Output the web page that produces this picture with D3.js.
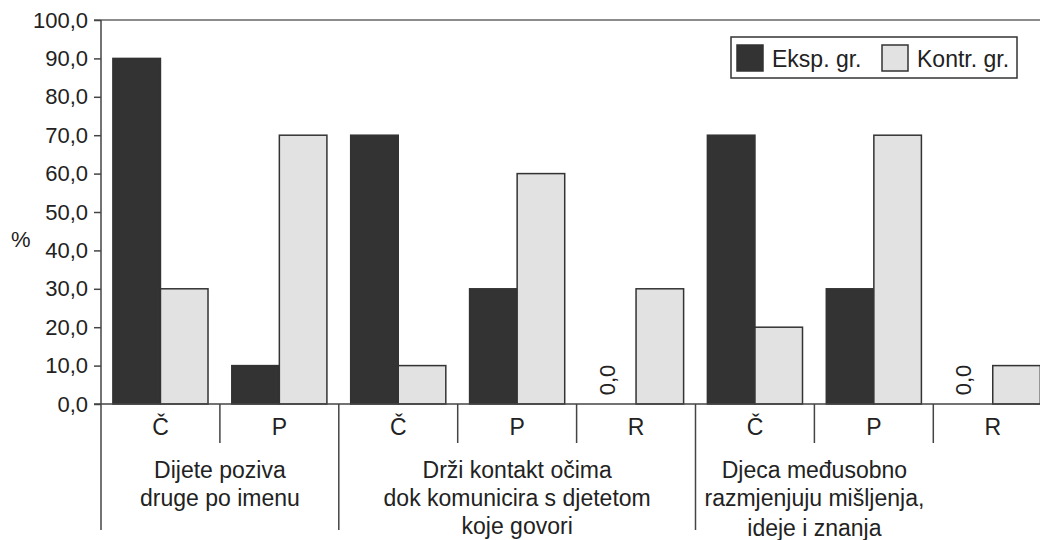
<!DOCTYPE html>
<html>
<head>
<meta charset="utf-8">
<script src="https://cdn.jsdelivr.net/npm/d3@7"></script>
<style>
  body { margin: 0; background: #fff; }
  svg { display: block; font-family: "Liberation Sans", Arial, sans-serif; }
</style>
</head>
<body>
<svg id="chart" width="1040" height="540"></svg>
<script>
// sub-categories along the x axis, in order
var categories = ["Č", "P", "Č", "P", "R", "Č", "P", "R"];
var eksp = [90, 10, 70, 30, 0, 70, 30, 0];
var kontr = [30, 70, 10, 60, 30, 20, 70, 10];
var seriesNames = ["Eksp. gr.", "Kontr. gr."];
var yTicks = [0, 10, 20, 30, 40, 50, 60, 70, 80, 90, 100];
// group labels (lines) and how many sub-categories each covers
var groupLabels = [
  ["Dijete poziva", "druge po imenu"],
  ["Drži kontakt očima", "dok komunicira s djetetom", "koje govori"],
  ["Djeca međusobno", "razmjenjuju mišljenja,", "ideje i znanja"]
];
var groupSizes = [2, 3, 3];

var svg = d3.select("#chart");
var padLeft = 101, padTop = 20, baseY = 404;
var step = 118.9;
var plotRight = padLeft + step * categories.length; // runs past the picture edge

var x0 = d3.scaleBand()
  .domain(d3.range(categories.length))
  .range([padLeft, plotRight])
  .paddingInner(0.2)
  .paddingOuter(0.1);

var x1 = d3.scaleBand()
  .domain([0, 1])
  .range([0, x0.bandwidth()]);

var y = d3.scaleLinear().domain([0, 100]).range([baseY, padTop]);

var fmt = function(v) { return d3.format(".1f")(v).replace(".", ","); };
var dark = "#333333", light = "#e2e2e2", ink = "#222";
var fs = 23;

// top border line
svg.append("line")
  .attr("x1", padLeft - 7).attr("x2", 1040)
  .attr("y1", y(100)).attr("y2", y(100))
  .attr("stroke", "#666").attr("stroke-width", 1.5);

// y axis
var yAxis = svg.append("g")
  .attr("transform", "translate(" + padLeft + ",0)")
  .call(d3.axisLeft(y).tickValues(yTicks).tickFormat(fmt).tickSize(7).tickPadding(6));
yAxis.select(".domain").remove();
yAxis.selectAll(".tick line").attr("stroke", "#444").attr("stroke-width", 1.5);
yAxis.selectAll(".tick text").attr("fill", ink).attr("font-size", 22)
  .attr("font-family", "Liberation Sans, Arial, sans-serif");

svg.append("text")
  .attr("x", 11).attr("y", 247)
  .attr("font-size", 22).attr("fill", ink)
  .text("%");

// bars
var rows = categories.map(function(c, i) {
  return [{ v: eksp[i], s: 0 }, { v: kontr[i], s: 1 }];
});
var grp = svg.selectAll("g.cat")
  .data(rows)
  .enter().append("g")
  .attr("class", "cat")
  .attr("transform", function(d, i) { return "translate(" + x0(i) + ",0)"; });

grp.selectAll("rect")
  .data(function(d) { return d.filter(function(e) { return e.v > 0; }); })
  .enter().append("rect")
  .attr("x", function(d) { return x1(d.s); })
  .attr("y", function(d) { return y(d.v); })
  .attr("width", x1.bandwidth())
  .attr("height", function(d) { return y(0) - y(d.v); })
  .attr("fill", function(d) { return d.s === 0 ? dark : light; })
  .attr("stroke", "#333")
  .attr("stroke-width", 1.5);

// zero labels, rotated
grp.selectAll("text.zero")
  .data(function(d) { return d.filter(function(e) { return e.v === 0; }); })
  .enter().append("text")
  .attr("class", "zero")
  .attr("transform", function(d) {
    var cx = x1(d.s) + x1.bandwidth() / 2 - 5;
    return "translate(" + cx + "," + (y(0) - 24) + ") rotate(-90)";
  })
  .attr("text-anchor", "middle")
  .attr("dominant-baseline", "central")
  .attr("font-size", 22).attr("fill", ink)
  .text(function(d) { return fmt(d.v); });

// x baseline
svg.append("line")
  .attr("x1", padLeft - 7).attr("x2", 1040)
  .attr("y1", y(0)).attr("y2", y(0))
  .attr("stroke", "#444").attr("stroke-width", 1.5);

// y axis line, running down through the category area
svg.append("line")
  .attr("x1", padLeft).attr("x2", padLeft)
  .attr("y1", y(100)).attr("y2", 530)
  .attr("stroke", "#444").attr("stroke-width", 1.5);

// category names
svg.selectAll("text.catname")
  .data(categories)
  .enter().append("text")
  .attr("class", "catname")
  .attr("x", function(d, i) { return x0(i) + x0.bandwidth() / 2; })
  .attr("y", 435)
  .attr("text-anchor", "middle")
  .attr("font-size", fs).attr("fill", ink)
  .text(function(d) { return d; });

// separators between sub-categories and between groups
var groupStarts = [];
var acc = 0;
groupSizes.forEach(function(n) { groupStarts.push(acc); acc += n; });
d3.range(1, categories.length + 1).forEach(function(i) {
  var xs = padLeft + step * i;
  var major = groupStarts.indexOf(i) >= 0 || i === categories.length;
  svg.append("line")
    .attr("x1", xs).attr("x2", xs)
    .attr("y1", y(0)).attr("y2", major ? 530 : 443)
    .attr("stroke", "#444").attr("stroke-width", 1.5);
});

// group labels
groupLabels.forEach(function(lines, gi) {
  var s = groupStarts[gi], n = groupSizes[gi];
  var cx = padLeft + step * (s + n / 2);
  // the last label in the reference is centred on its first two bars
  if (gi === groupLabels.length - 1) cx = padLeft + step * (s + 1);
  var t = svg.append("text")
    .attr("text-anchor", "middle")
    .attr("font-size", fs).attr("fill", ink);
  lines.forEach(function(line, li) {
    t.append("tspan")
      .attr("x", cx)
      .attr("y", 478 + li * 28 + (gi === 2 && li === 2 ? 2 : 0))
      .text(line);
  });
});

// legend
var lg = svg.append("g").attr("transform", "translate(731,37)");
lg.append("rect")
  .attr("width", 286).attr("height", 41)
  .attr("fill", "#fff").attr("stroke", "#333").attr("stroke-width", 1.5);
var items = lg.selectAll("g.item")
  .data(seriesNames)
  .enter().append("g")
  .attr("class", "item")
  .attr("transform", function(d, i) { return "translate(" + (i === 0 ? 6 : 151) + ",8)"; });
items.append("rect")
  .attr("width", 26).attr("height", 26)
  .attr("fill", function(d, i) { return i === 0 ? dark : light; })
  .attr("stroke", "#333").attr("stroke-width", 1.5);
items.append("text")
  .attr("x", 35).attr("y", 22)
  .attr("font-size", fs).attr("fill", ink)
  .text(function(d) { return d; });
</script>
</body>
</html>
